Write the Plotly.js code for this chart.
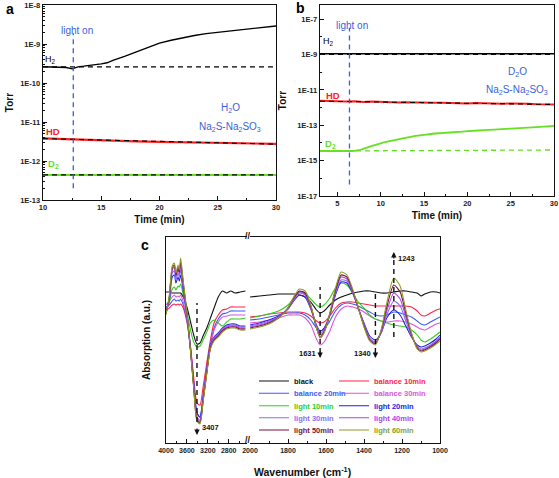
<!DOCTYPE html>
<html><head><meta charset="utf-8">
<script src="https://cdn.plot.ly/plotly-3.0.1.min.js"></script>
<style>html,body{margin:0;padding:0;background:#fff}#chart{width:559px;height:478px}</style>
</head><body><div id="chart"></div>
<script>
// ================= DATA =================
// ---- panel a (H2O, Na2S-Na2SO3) ----
const timeA_H2 = [10,11,12,12.5,12.7,13,13.5,14,14.5,15,15.5,16,17,18,19,20,21,22,23,24,25,26,27,28,29,30];
const torrA_H2 = [2.6e-10,2.6e-10,2.5e-10,2.3e-10,2.4e-10,2.6e-10,2.7e-10,2.8e-10,3.0e-10,3.1e-10,3.3e-10,3.8e-10,4.8e-10,6.2e-10,8.0e-10,1.05e-9,1.25e-9,1.45e-9,1.65e-9,1.85e-9,2.0e-9,2.15e-9,2.3e-9,2.5e-9,2.7e-9,2.9e-9];
const timeA_base = [10,20,30];
const torrA_H2base = [2.6e-10,2.6e-10,2.6e-10];
const timeA_HD = [10,12,14,16,18,20,22,24,26,28,30];
const torrA_HD = [3.8e-12,3.6e-12,3.45e-12,3.3e-12,3.2e-12,3.1e-12,3.0e-12,2.95e-12,2.85e-12,2.8e-12,2.75e-12];
const torrA_HDbase = [3.75e-12,3.15e-12,2.7e-12];
const timeA_D2 = [10,15,20,25,30];
const torrA_D2 = [4.4e-13,4.4e-13,4.4e-13,4.4e-13,4.4e-13];
const torrA_D2base = [4.4e-13,4.4e-13,4.4e-13];
const lightOnA = 12.6;
const lightOnA_span = [2.0e-13, 1.9e-9];

// ---- panel b (D2O, Na2S-Na2SO3) ----
const timeB_base = [3,16,30];
const torrB_H2 = [1.1e-9,1.1e-9,1.1e-9];
const torrB_H2base = [1.0e-9,1.0e-9,1.0e-9];
const timeB_HD = [3,4,5,6,7,8,9,10,11,12,13,14,15,16,17,18,19,20,21,22,23,24,25,26,27,28,29,30];
const torrB_HD = [2.4e-12,2.3e-12,2.35e-12,2.2e-12,2.25e-12,2.1e-12,2.2e-12,2.05e-12,2.1e-12,1.95e-12,2.0e-12,1.9e-12,1.95e-12,1.85e-12,1.9e-12,1.8e-12,1.85e-12,1.72e-12,1.8e-12,1.7e-12,1.72e-12,1.62e-12,1.7e-12,1.58e-12,1.62e-12,1.52e-12,1.58e-12,1.5e-12];
const torrB_HDbase = [2.3e-12,1.85e-12,1.5e-12];
const timeB_D2 = [3,4,5,6,7,7.5,8,8.5,9,10,11,12,13,14,15,16,17,18,19,20,22,24,26,28,30];
const torrB_D2 = [3.6e-15,3.5e-15,3.5e-15,3.5e-15,3.6e-15,3.9e-15,4.6e-15,5.6e-15,6.8e-15,9.5e-15,1.25e-14,1.6e-14,2.0e-14,2.5e-14,2.9e-14,3.3e-14,3.6e-14,3.9e-14,4.2e-14,4.6e-14,5.3e-14,6.1e-14,6.9e-14,7.9e-14,9.2e-14];
const torrB_D2base = [3.5e-15,3.7e-15,4.0e-15];
const lightOnB = 6.4;
const lightOnB_span = [4.5e-17, 3.3e-8];

// ---- panel c (FTIR) ----
const seriesNames = ['black','balance 10min','balance 20min','balance 30min','light 10min','light 20min','light 30min','light 40min','light 50min','light 60min'];
const wnLeft = [4000,3940,3880,3840,3810,3770,3745,3720,3670,3600,3530,3470,3407,3350,3290,3220,3150,3080,3000,2920,2840,2760,2680,2580,2480];
const wnRight = [2000,1950,1900,1850,1800,1770,1740,1710,1680,1650,1631,1610,1580,1550,1520,1490,1460,1430,1400,1370,1340,1310,1280,1243,1210,1180,1150,1120,1100,1080,1050,1020,1000];

const absBlackL   = [151,151,150,150,150,150,150,150,146,136,121,108,99,100,107,115,125,135,146,152,150,152,150,151,152];
const absBal10L   = [133,135,138,139,138,139,138,139,135,121,96,66,40,38,56,80,103,120,128,133,134,136,136,136,136];
const absBal20L   = [136,138,142,144,142,143,142,144,138,123,93,60,30,26,46,73,98,115,124,129,130,132,132,132,132];
const absBal30L   = [138,142,146,148,146,147,146,148,141,125,93,58,26,23,45,71,96,113,121,126,127,128,128,128,128];
const absLight10L = [134,140,154,156,153,157,156,159,148,131,113,101,96,97,103,111,120,123,120,117,121,124,124,124,125];
const absLight20L = [131,142,166,168,160,166,162,168,152,128,95,60,30,26,46,73,98,106,110,115,118,119,119,117,117];
const absLight30L = [130,143,170,172,163,170,166,173,155,128,93,58,26,22,44,72,97,105,109,114,117,118,118,116,116];
const absLight40L = [130,144,173,176,166,174,169,178,158,129,93,57,24,21,43,71,96,104,108,113,116,117,117,115,115];
const absLight50L = [129,145,175,178,168,176,171,181,160,130,92,56,23,20,42,70,95,103,107,112,115,116,116,114,114];
const absLight60L = [128,146,177,180,170,178,173,185,162,131,92,55,22,19,41,69,94,102,106,111,114,115,115,113,113];

const absBlackR   = [146,147,148,149,149,149,148,146,141,133,130,132,138,143,146,148,150,151,152,152,151,150,150,151,152,152,151,150,147,149,151,151,150];
const absBal10R   = [126,127,129,130,131,131,131,130,127,122,120,121,127,135,140,141,141,140,139,138,137,137,137,137,137,137,136,132,128,127,130,133,134];
const absBal20R   = [123,124,126,128,130,130,130,128,123,115,112,114,122,132,138,140,139,137,134,131,128,127,128,131,130,128,126,122,119,118,121,124,126];
const absBal30R   = [120,121,123,125,128,128,128,125,118,104,98,101,112,126,134,137,136,134,131,127,124,122,121,122,122,121,119,116,114,113,116,119,120];
const absLight10R = [125,127,129,132,138,145,151,150,144,138,136,138,145,155,160,158,150,141,135,128,124,122,120,118,117,116,113,108,103,101,104,108,111];
const absLight20R = [118,120,123,127,134,142,148,146,134,118,112,115,128,148,161,160,150,135,120,107,103,110,125,133,128,117,106,98,96,97,100,104,108];
const absLight30R = [117,119,122,126,134,143,150,148,135,117,110,113,128,150,163,162,151,135,119,105,101,110,128,142,137,122,107,97,94,95,98,102,106];
const absLight40R = [116,118,121,126,135,144,151,149,136,116,108,112,128,151,166,164,152,135,118,104,100,111,132,150,144,126,108,96,93,94,97,101,105];
const absLight50R = [115,117,120,125,135,145,152,150,137,115,106,111,129,153,168,166,153,135,117,103,99,112,136,158,151,130,109,95,92,93,96,100,104];
const absLight60R = [114,116,119,125,135,146,154,152,138,115,105,110,130,155,171,168,154,135,116,102,98,113,140,165,157,133,110,94,91,92,95,99,102];

const peakWn = [3407, 1631, 1340, 1243];
const tickLogA = [1e-13,1e-12,1e-11,1e-10,1e-9,1e-8];
const tickLogAText = ['1E-13','1E-12','1E-11','1E-10','1E-9','1E-8'];
const tickLogB = [1e-17,1e-15,1e-13,1e-11,1e-9,1e-7];
const tickLogBText = ['1E-17','1E-15','1E-13','1E-11','1E-9','1E-7'];

// ================= STYLE / LAYOUT =================
const W = 559, H = 478;
const X = px => px / W, Y = py => 1 - py / H;
const FONT = 'Liberation Sans, Arial, sans-serif';
const seriesColors = ['#111111','#ff2448','#3a5cff','#dd55dd','#33cc22','#2222dd','#8a6cf0','#b040f0','#7a1035','#8a9e28'];
const leftSets = [absBlackL,absBal10L,absBal20L,absBal30L,absLight10L,absLight20L,absLight30L,absLight40L,absLight50L,absLight60L];
const rightSets = [absBlackR,absBal10R,absBal20R,absBal30R,absLight10R,absLight20R,absLight30R,absLight40R,absLight50R,absLight60R];
const legendId = i => (i === 0 ? 'legend' : 'legend' + (i + 1));

const RED = '#ff2020', GREEN = '#66e022', BLUE = '#3a5fd9';
const dashed = (c, w) => ({color: c, width: w || 1.2, dash: '5px,4px'});
const traces = [];
function ln(x, y, xa, ya, line) {
  traces.push({x, y, xaxis: xa, yaxis: ya, mode: 'lines', line, showlegend: false, hoverinfo: 'skip'});
}
// panel a
ln(timeA_H2, torrA_H2, 'x', 'y', {color: '#000', width: 1.4});
ln(timeA_base, torrA_H2base, 'x', 'y', dashed('#000', 1.2));
ln(timeA_HD, torrA_HD, 'x', 'y', {color: RED, width: 2.2});
ln(timeA_base, torrA_HDbase, 'x', 'y', dashed('#000', 1.1));
ln(timeA_D2, torrA_D2, 'x', 'y', {color: GREEN, width: 2});
ln(timeA_base, torrA_D2base, 'x', 'y', dashed('#000', 1.1));
ln([lightOnA, lightOnA], lightOnA_span, 'x', 'y', dashed(BLUE, 1.3));
// panel b
ln(timeB_base, torrB_H2, 'x2', 'y2', {color: '#000', width: 1.4});
ln(timeB_base, torrB_H2base, 'x2', 'y2', dashed('#000', 1.2));
ln(timeB_HD, torrB_HD, 'x2', 'y2', {color: RED, width: 2});
ln(timeB_base, torrB_HDbase, 'x2', 'y2', dashed('#000', 1.1));
ln(timeB_D2, torrB_D2, 'x2', 'y2', {color: GREEN, width: 1.8, shape: 'spline'});
ln(timeB_base, torrB_D2base, 'x2', 'y2', dashed(GREEN, 1.3));
ln([lightOnB, lightOnB], lightOnB_span, 'x2', 'y2', dashed(BLUE, 1.3));
// panel c
const peakLineSpan = [[21,140],[90,156],[90,153],[106,183]];
for (let i = 0; i < seriesNames.length; i++) {
  traces.push({x: wnLeft, y: leftSets[i], xaxis: 'x3', yaxis: 'y3', mode: 'lines',
    line: {color: seriesColors[i], width: 1.1, shape: 'spline', smoothing: 0.7}, showlegend: false, hoverinfo: 'skip'});
}
for (let i = 0; i < seriesNames.length; i++) {
  traces.push({x: wnRight, y: rightSets[i], xaxis: 'x4', yaxis: 'y4', mode: 'lines',
    line: {color: seriesColors[i], width: 1.1, shape: 'spline', smoothing: 0.7},
    name: '<span style="color:' + seriesColors[i] + '">' + seriesNames[i] + '</span>',
    legend: legendId(i), showlegend: true, hoverinfo: 'skip'});
}
ln([peakWn[0], peakWn[0]], peakLineSpan[0], 'x3', 'y3', dashed('#111', 1.4));
for (let k = 1; k < 4; k++) ln([peakWn[k], peakWn[k]], peakLineSpan[k], 'x4', 'y4', dashed('#111', 1.4));

// annotations
const annotations = [];
function txt(text, px, py, size, color, bold, xanchor) {
  annotations.push({text, x: X(px), y: Y(py), xref: 'paper', yref: 'paper', showarrow: false,
    xanchor: xanchor || 'center', yanchor: 'middle',
    font: {family: FONT, size, color, weight: bold ? 'bold' : 'normal'}});
}
txt('a', 10, 9, 14, '#000', true);
txt('b', 300, 8, 14, '#000', true);
txt('c', 145, 245, 14, '#000', true);
txt('light on', 77, 30, 10, BLUE, false);
txt('light on', 352, 25, 10, BLUE, false);
txt('H<sub>2</sub>', 50, 59, 9, '#000', false);
txt('HD', 53, 132, 9.5, RED, true);
txt('D<sub>2</sub>', 53, 164, 9.5, GREEN, true);
txt('H<sub>2</sub>O', 230, 108, 10, BLUE, false);
txt('Na<sub>2</sub>S-Na<sub>2</sub>SO<sub>3</sub>', 230, 127, 10, BLUE, false);
txt('H<sub>2</sub>', 328, 42, 9, '#000', false);
txt('HD', 333, 95, 9.5, RED, true);
txt('D<sub>2</sub>', 330, 144, 9.5, GREEN, true);
txt('D<sub>2</sub>O', 517, 72, 10, BLUE, false);
txt('Na<sub>2</sub>S-Na<sub>2</sub>SO<sub>3</sub>', 517, 90, 10, BLUE, false);
txt('3407', 210, 427, 7.5, '#111', true);
txt('1631', 307, 353, 7.5, '#111', true);
txt('1340', 362, 353, 7.5, '#111', true);
txt('1243', 406, 258, 7.5, '#111', true);
txt('//', 248, 440, 9, '#111', true);
txt('//', 248, 236, 9, '#111', true);
txt('Wavenumber (cm<sup>-1</sup>)', 302, 471, 10.5, '#111', true);
// arrows at peaks
const arrowTips = [[8, 1], [85, 1], [85, 1], [191, -1]];
peakWn.forEach((wn, k) => {
  annotations.push({x: wn, y: arrowTips[k][0], xref: k === 0 ? 'x3' : 'x4', yref: k === 0 ? 'y3' : 'y4',
    text: '', showarrow: true, ax: 0, ay: -8 * arrowTips[k][1], arrowhead: 2, arrowsize: 0.9,
    arrowwidth: 1.2, arrowcolor: '#111'});
});

const tickFont = {family: FONT, size: 7.5, color: '#222', weight: 'bold'};
const titleFont = {family: FONT, size: 10, color: '#111', weight: 'bold'};
const axBase = {showline: true, linecolor: '#111', linewidth: 1.3, mirror: true, ticks: 'inside',
  ticklen: 4, tickcolor: '#111', tickwidth: 1, showgrid: false, zeroline: false, tickfont: tickFont};

function legendAt(px, py) {
  return {x: X(px), xanchor: 'left', y: Y(py), yanchor: 'middle', orientation: 'h',
    bgcolor: 'rgba(0,0,0,0)', borderwidth: 0, itemwidth: 30,
    font: {family: FONT, size: 7.5, weight: 'bold'}, itemclick: false};
}
const legendCols = [254, 334];
const legendRows = [381, 393.3, 405.7, 417.7, 430];

const layout = {
  width: W, height: H, margin: {l: 0, r: 0, t: 0, b: 0}, paper_bgcolor: '#fff', plot_bgcolor: 'rgba(0,0,0,0)',
  showlegend: true,
  xaxis: Object.assign({}, axBase, {domain: [X(43), X(276)], anchor: 'y', range: [10, 30],
    tickvals: [10, 15, 20, 25, 30], minor: {ticks: 'inside', ticklen: 2, tick0: 10, dtick: 2.5, tickcolor: '#111'},
    title: {text: 'Time (min)', font: titleFont, standoff: 4}}),
  yaxis: Object.assign({}, axBase, {domain: [Y(200), Y(5)], anchor: 'x', type: 'log', range: [-13, -8],
    tickmode: 'array', tickvals: tickLogA, ticktext: tickLogAText,
    minor: {ticks: 'inside', ticklen: 2, dtick: 'D1', tickcolor: '#111'},
    title: {text: 'Torr', font: titleFont, standoff: 4}}),
  xaxis2: Object.assign({}, axBase, {domain: [X(320), X(554)], anchor: 'y2', range: [3, 30],
    tickvals: [5, 10, 15, 20, 25, 30], minor: {ticks: 'inside', ticklen: 2, tick0: 0, dtick: 2.5, tickcolor: '#111'},
    title: {text: 'Time (min)', font: titleFont, standoff: 4}}),
  yaxis2: Object.assign({}, axBase, {domain: [Y(196), Y(5)], anchor: 'x2', type: 'log', range: [-17, -6.2],
    tickmode: 'array', tickvals: tickLogB, ticktext: tickLogBText,
    minor: {ticks: 'inside', ticklen: 2, tick0: 0, dtick: 1, tickcolor: '#111'},
    title: {text: 'Torr', font: titleFont, standoff: 8}}),
  xaxis3: Object.assign({}, axBase, {domain: [X(166), X(247)], anchor: 'y3', range: [4000, 2450],
    tickvals: [4000, 3600, 3200, 2800], tickfont: Object.assign({}, tickFont, {size: 7}),
    minor: {ticks: 'inside', ticklen: 2, tick0: 4000, dtick: 200, tickcolor: '#111'}}),
  xaxis4: Object.assign({}, axBase, {domain: [X(250), X(440)], anchor: 'y4', range: [2000, 1000],
    tick0: 0, dtick: 200, tickfont: Object.assign({}, tickFont, {size: 7}),
    minor: {ticks: 'inside', ticklen: 2, tick0: 0, dtick: 100, tickcolor: '#111'}}),
  yaxis3: {domain: [Y(443), Y(237)], anchor: 'x3', range: [0, 206], showline: true, linecolor: '#111', linewidth: 1.3,
    ticks: '', showticklabels: false, showgrid: false, zeroline: false,
    title: {text: 'Absorption (a.u.)', font: titleFont, standoff: 12}},
  yaxis4: {domain: [Y(443), Y(237)], anchor: 'x4', side: 'right', range: [0, 206], showline: true, linecolor: '#111',
    linewidth: 1.3, ticks: '', showticklabels: false, showgrid: false, zeroline: false},
  annotations
};
for (let i = 0; i < seriesNames.length; i++) {
  layout[legendId(i)] = legendAt(legendCols[i % 2], legendRows[Math.floor(i / 2)]);
}

Plotly.newPlot('chart', traces, layout, {staticPlot: true, displayModeBar: false});
</script></body></html>
